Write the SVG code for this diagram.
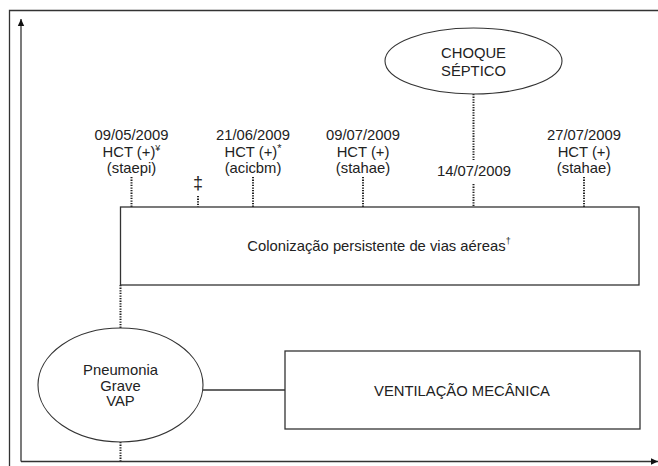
<svg xmlns="http://www.w3.org/2000/svg" width="658" height="466" viewBox="0 0 658 466">
<style>
text{font-family:"Liberation Sans",Arial,sans-serif;font-size:14.8px;fill:#222;text-anchor:middle}
.ln{stroke:#333;stroke-width:1.3;fill:none}
.dot{stroke:#222;stroke-width:2;stroke-dasharray:1.3 1.3;fill:none}
.shape{fill:#fff;stroke:#333;stroke-width:1.3}
.sup{font-size:9px}
</style>
<defs>
<marker id="ah" markerWidth="8" markerHeight="8" refX="7" refY="4" orient="auto" markerUnits="userSpaceOnUse">
<path d="M0,0.8 L7,4 L0,7.2 Z" fill="#111"/>
</marker>
</defs>
<rect width="658" height="466" fill="#fff"/>
<path class="ln" d="M9.5,466 V10.5 H658"/>
<g id="axes">
<line class="ln" x1="21" y1="461.5" x2="21" y2="19" stroke-width="1.6" marker-end="url(#ah)"/>
<line class="ln" x1="21" y1="461.5" x2="658" y2="461.5" stroke-width="1.6" marker-end="url(#ah)"/>
</g>
<g id="connectors">
<line class="dot" x1="131.5" y1="177" x2="131.5" y2="207"/>
<line class="dot" x1="198" y1="196" x2="198" y2="207"/>
<line class="dot" x1="253" y1="177" x2="253" y2="207"/>
<line class="dot" x1="363" y1="177" x2="363" y2="207"/>
<line class="dot" x1="473.5" y1="94" x2="473.5" y2="160"/>
<line class="dot" x1="473.5" y1="184" x2="473.5" y2="207"/>
<line class="dot" x1="584" y1="177" x2="584" y2="207"/>
<line class="dot" x1="120.5" y1="285" x2="120.5" y2="328"/>
<line class="dot" x1="120.5" y1="442" x2="120.5" y2="461"/>
<line class="ln" x1="203" y1="390" x2="285" y2="390"/>
</g>
<g id="label-0905">
<text x="131.5" y="140">09/05/2009</text>
<text x="131.5" y="157">HCT (+)<tspan class="sup" dy="-6">¥</tspan></text>
<text x="131.5" y="173">(staepi)</text>
</g>
<g id="label-dagger">
<text x="198" y="189" style="font-size:18px">‡</text>
</g>
<g id="label-2106">
<text x="253" y="140">21/06/2009</text>
<text x="253" y="157">HCT (+)<tspan class="sup" dy="-5" style="font-size:11px">*</tspan></text>
<text x="253" y="173">(acicbm)</text>
</g>
<g id="label-0907">
<text x="363" y="140">09/07/2009</text>
<text x="363" y="157">HCT (+)</text>
<text x="363" y="173">(stahae)</text>
</g>
<g id="label-1407">
<text x="474" y="176">14/07/2009</text>
</g>
<g id="label-2707">
<text x="584" y="140">27/07/2009</text>
<text x="584" y="157">HCT (+)</text>
<text x="584" y="173">(stahae)</text>
</g>
<g id="choque">
<ellipse class="shape" cx="473.5" cy="61" rx="88.5" ry="33" style="stroke-width:1.1"/>
<text x="473.5" y="58">CHOQUE</text>
<text x="473.5" y="76">SÉPTICO</text>
</g>
<g id="colonizacao">
<rect class="shape" x="120.5" y="207" width="518.5" height="78"/>
<text x="379" y="251">Colonização persistente de vias aéreas<tspan class="sup" dy="-7">†</tspan></text>
</g>
<g id="pneumonia">
<ellipse class="shape" cx="120.5" cy="385" rx="82.5" ry="57" style="stroke-width:1.1"/>
<text x="120.5" y="375">Pneumonia</text>
<text x="120.5" y="391">Grave</text>
<text x="120.5" y="406">VAP</text>
</g>
<g id="ventilacao">
<rect class="shape" x="285" y="351" width="355" height="78"/>
<text x="462" y="396">VENTILAÇÃO MECÂNICA</text>
</g>
</svg>
